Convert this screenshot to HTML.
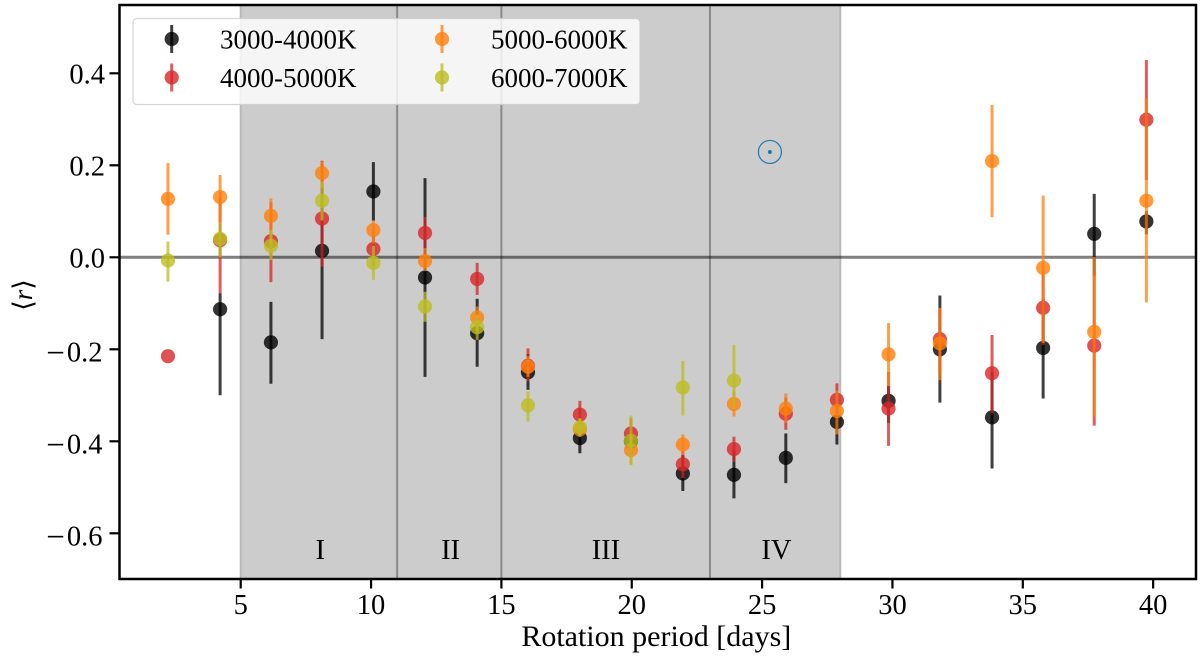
<!DOCTYPE html>
<html lang="en">
<head>
<meta charset="utf-8">
<title>Mean correlation vs rotation period</title>
<style>
html,body{margin:0;padding:0;background:#fff;width:1200px;height:656px;overflow:hidden}
svg{display:block;filter:blur(0.35px)}
text{font-family:"Liberation Serif","DejaVu Serif",serif;fill:#000}
</style>
</head>
<body>
<svg id="chart" width="1200" height="656" viewBox="0 0 1200 656" xmlns="http://www.w3.org/2000/svg"></svg>
<script>
var periods = [2.21,4.21,6.16,8.12,10.09,12.07,14.07,16.02,18.01,19.97,21.96,23.92,25.91,27.87,29.85,31.82,33.82,35.78,37.74,39.74];

var blackMean = [null,-0.113,-0.185,0.014,0.143,-0.044,-0.165,-0.25,-0.393,-0.40,-0.47,-0.473,-0.436,-0.358,-0.312,-0.2,-0.348,-0.197,0.051,0.078];
var blackLow = [null,-0.30,-0.275,-0.178,0.08,-0.26,-0.238,-0.288,-0.426,-0.43,-0.508,-0.524,-0.491,-0.407,-0.36,-0.316,-0.459,-0.307,-0.04,0.05];
var blackHigh = [null,-0.078,-0.097,0.2,0.207,0.172,-0.09,-0.21,-0.36,-0.37,-0.43,-0.42,-0.383,-0.31,-0.28,-0.083,-0.25,-0.09,0.138,0.1];

var redMean = [-0.215,0.037,0.035,0.084,0.018,0.053,-0.047,-0.236,-0.342,-0.383,-0.45,-0.417,-0.34,-0.31,-0.329,-0.178,-0.252,-0.11,-0.192,0.299];
var redLow = [null,-0.078,-0.054,-0.02,-0.02,0.016,-0.082,-0.27,-0.37,-0.41,-0.48,-0.445,-0.375,-0.345,-0.41,-0.25,-0.338,-0.19,-0.366,0.168];
var redHigh = [null,0.13,0.12,0.21,0.06,0.088,-0.012,-0.198,-0.312,-0.35,-0.42,-0.39,-0.305,-0.274,-0.249,-0.11,-0.169,-0.03,-0.034,0.429];

var orangeMean = [0.127,0.131,0.09,0.183,0.059,-0.008,-0.131,-0.238,-0.374,-0.419,-0.407,-0.319,-0.329,-0.334,-0.211,-0.187,0.209,-0.023,-0.162,0.123];
var orangeLow = [0.049,0.077,0.03,0.15,0.03,-0.03,-0.16,-0.26,-0.39,-0.45,-0.43,-0.346,-0.36,-0.385,-0.28,-0.267,0.087,-0.186,-0.346,-0.098];
var orangeHigh = [0.205,0.179,0.128,0.208,0.08,0.02,-0.107,-0.215,-0.35,-0.39,-0.385,-0.29,-0.296,-0.29,-0.143,-0.11,0.331,0.134,0.001,0.346];

var oliveMean = [-0.007,0.04,0.025,0.123,-0.012,-0.107,-0.152,-0.322,-0.37,-0.399,-0.283,-0.268,null,null,null,null,null,null,null,null];
var oliveLow = [-0.053,0,-0.006,0.08,-0.049,-0.14,-0.18,-0.357,-0.39,-0.452,-0.344,-0.33,null,null,null,null,null,null,null,null];
var oliveHigh = [0.034,0.077,0.06,0.165,0.025,-0.075,-0.125,-0.292,-0.35,-0.344,-0.225,-0.19,null,null,null,null,null,null,null,null];

var seriesLabels = ["3000-4000K","4000-5000K","5000-6000K","6000-7000K"];
var xTicks = [5,10,15,20,25,30,35,40];
var yTicks = [-0.6,-0.4,-0.2,0,0.2,0.4];
var regionEdges = [5,11,15,23,28];
var regionNames = ["I","II","III","IV"];
var regionLabelPeriods = [8.05,13.05,19.01,25.55];
var sunPeriod = [25.3];
var sunValue = [0.229];

var NS = "http://www.w3.org/2000/svg";
var svg = document.getElementById("chart");
var plot = {left:119.5,right:1196,top:5,bottom:579};
function xPos(v){return 240.7+(v-5)*26.07;}
function yPos(v){return 257.3-v*460;}
function make(tag,attrs,parent){
  var el=document.createElementNS(NS,tag);
  for(var k in attrs){el.setAttribute(k,attrs[k]);}
  (parent||svg).appendChild(el);
  return el;
}
function makeText(str,attrs,parent){
  var el=make("text",attrs,parent);
  el.textContent=str;
  return el;
}
function fmtY(v){
  if(v===0){return "0.0";}
  return Math.abs(v).toFixed(1);
}

var el;
var band=make("g",{});



el=make("rect",{x:xPos(regionEdges[0]),y:plot.top,width:xPos(regionEdges[4])-xPos(regionEdges[0]),height:plot.bottom-plot.top,fill:"#cccccc"},band);



regionEdges.forEach(function(p,i){
  var outer=(i===0||i===regionEdges.length-1);
  var line=make("line",{x1:xPos(p),x2:xPos(p),y1:plot.top,y2:plot.bottom,stroke:outer?"#b9b9b9":"#8a8a8a","stroke-width":2},band);
  
  
});

regionNames.forEach(function(n,i){
  var t=makeText(n,{x:xPos(regionLabelPeriods[i]),y:559,"text-anchor":"middle","font-size":28.5},band);
  
  
});

el=make("line",{x1:plot.left,x2:plot.right,y1:yPos(0),y2:yPos(0),stroke:"#000","stroke-opacity":0.5,"stroke-width":3});



var sunGroup=make("g",{});


make("circle",{cx:xPos(sunPeriod[0]),cy:yPos(sunValue[0]),r:11.5,fill:"none",stroke:"#1f77b4","stroke-width":1.2},sunGroup);
make("circle",{cx:xPos(sunPeriod[0]),cy:yPos(sunValue[0]),r:2,fill:"#1f77b4"},sunGroup);

function drawSeries(name,color,means,lows,highs){
  var g=make("g",{});
  
  
  periods.forEach(function(p,i){
    if(lows[i]!==null&&highs[i]!==null){
      var bar=make("line",{x1:xPos(p),x2:xPos(p),y1:yPos(lows[i]),y2:yPos(highs[i]),stroke:color,"stroke-width":3,"stroke-opacity":0.75},g);
      
      
    }
    if(means[i]!==null){
      var dot=make("circle",{cx:xPos(p),cy:yPos(means[i]),r:7.1,fill:color,"fill-opacity":0.8},g);
      
      
    }
  });
}
drawSeries("series-3000-4000k","#000000",blackMean,blackLow,blackHigh);
drawSeries("series-4000-5000k","#d62728",redMean,redLow,redHigh);
drawSeries("series-5000-6000k","#ff7f0e",orangeMean,orangeLow,orangeHigh);
drawSeries("series-6000-7000k","#bcbd22",oliveMean,oliveLow,oliveHigh);

el=make("rect",{x:plot.left,y:plot.top,width:plot.right-plot.left,height:plot.bottom-plot.top,fill:"none",stroke:"#000","stroke-width":2.5});



xTicks.forEach(function(v){
  var tick=make("line",{x1:xPos(v),x2:xPos(v),y1:plot.bottom,y2:plot.bottom+9.5,stroke:"#000","stroke-width":2.2});
  
  
  var lab=makeText(String(v),{x:xPos(v),y:614,"text-anchor":"middle","font-size":28.5});
  
  
});

yTicks.forEach(function(v){
  var tick=make("line",{x1:plot.left-10,x2:plot.left,y1:yPos(v),y2:yPos(v),stroke:"#000","stroke-width":2.2});
  
  
  var lab=make("text",{x:v<0?102.5:105,y:yPos(v)+(v<0?12.3:10.3),"text-anchor":"end","font-size":28.5});
  
  
  var num;
  if(v<0){
    var minus=make("tspan",{"letter-spacing":"2px","font-size":33,dy:2},lab);
    minus.textContent="\u2212";
    num=make("tspan",{dy:-2},lab);
  } else {
    num=make("tspan",{},lab);
  }
  num.textContent=fmtY(v);
});

el=makeText("Rotation period [days]",{x:656.3,y:646,"text-anchor":"middle","font-size":30});



var yTitle=make("text",{transform:"translate(32,295) rotate(-90)","text-anchor":"middle","font-size":27});


var t1=make("tspan",{},yTitle);
t1.textContent="\u27E8";
var t2=make("tspan",{"font-style":"italic"},yTitle);
t2.textContent="r";
var t3=make("tspan",{},yTitle);
t3.textContent="\u27E9";

var legend=make("g",{});


el=make("rect",{x:133,y:18.5,width:507,height:86,rx:4,fill:"#fff","fill-opacity":0.8,stroke:"#cccccc","stroke-opacity":0.8,"stroke-width":1.2},legend);



var legendColors=["#000000","#d62728","#ff7f0e","#bcbd22"];
var legendX=[171.7,171.7,442,442];
var legendY=[39,77.5,39,77.5];
var legendTextX=[220,220,491,491];
seriesLabels.forEach(function(s,i){
  var e=make("g",{},legend);
  
  
  make("line",{x1:legendX[i],x2:legendX[i],y1:legendY[i]-14,y2:legendY[i]+14,stroke:legendColors[i],"stroke-width":3,"stroke-opacity":0.75},e);
  make("circle",{cx:legendX[i],cy:legendY[i],r:7.1,fill:legendColors[i],"fill-opacity":0.8},e);
  makeText(s,{x:legendTextX[i],y:legendY[i]+9.5,"font-size":27},e);
});
</script>
</body>
</html>
